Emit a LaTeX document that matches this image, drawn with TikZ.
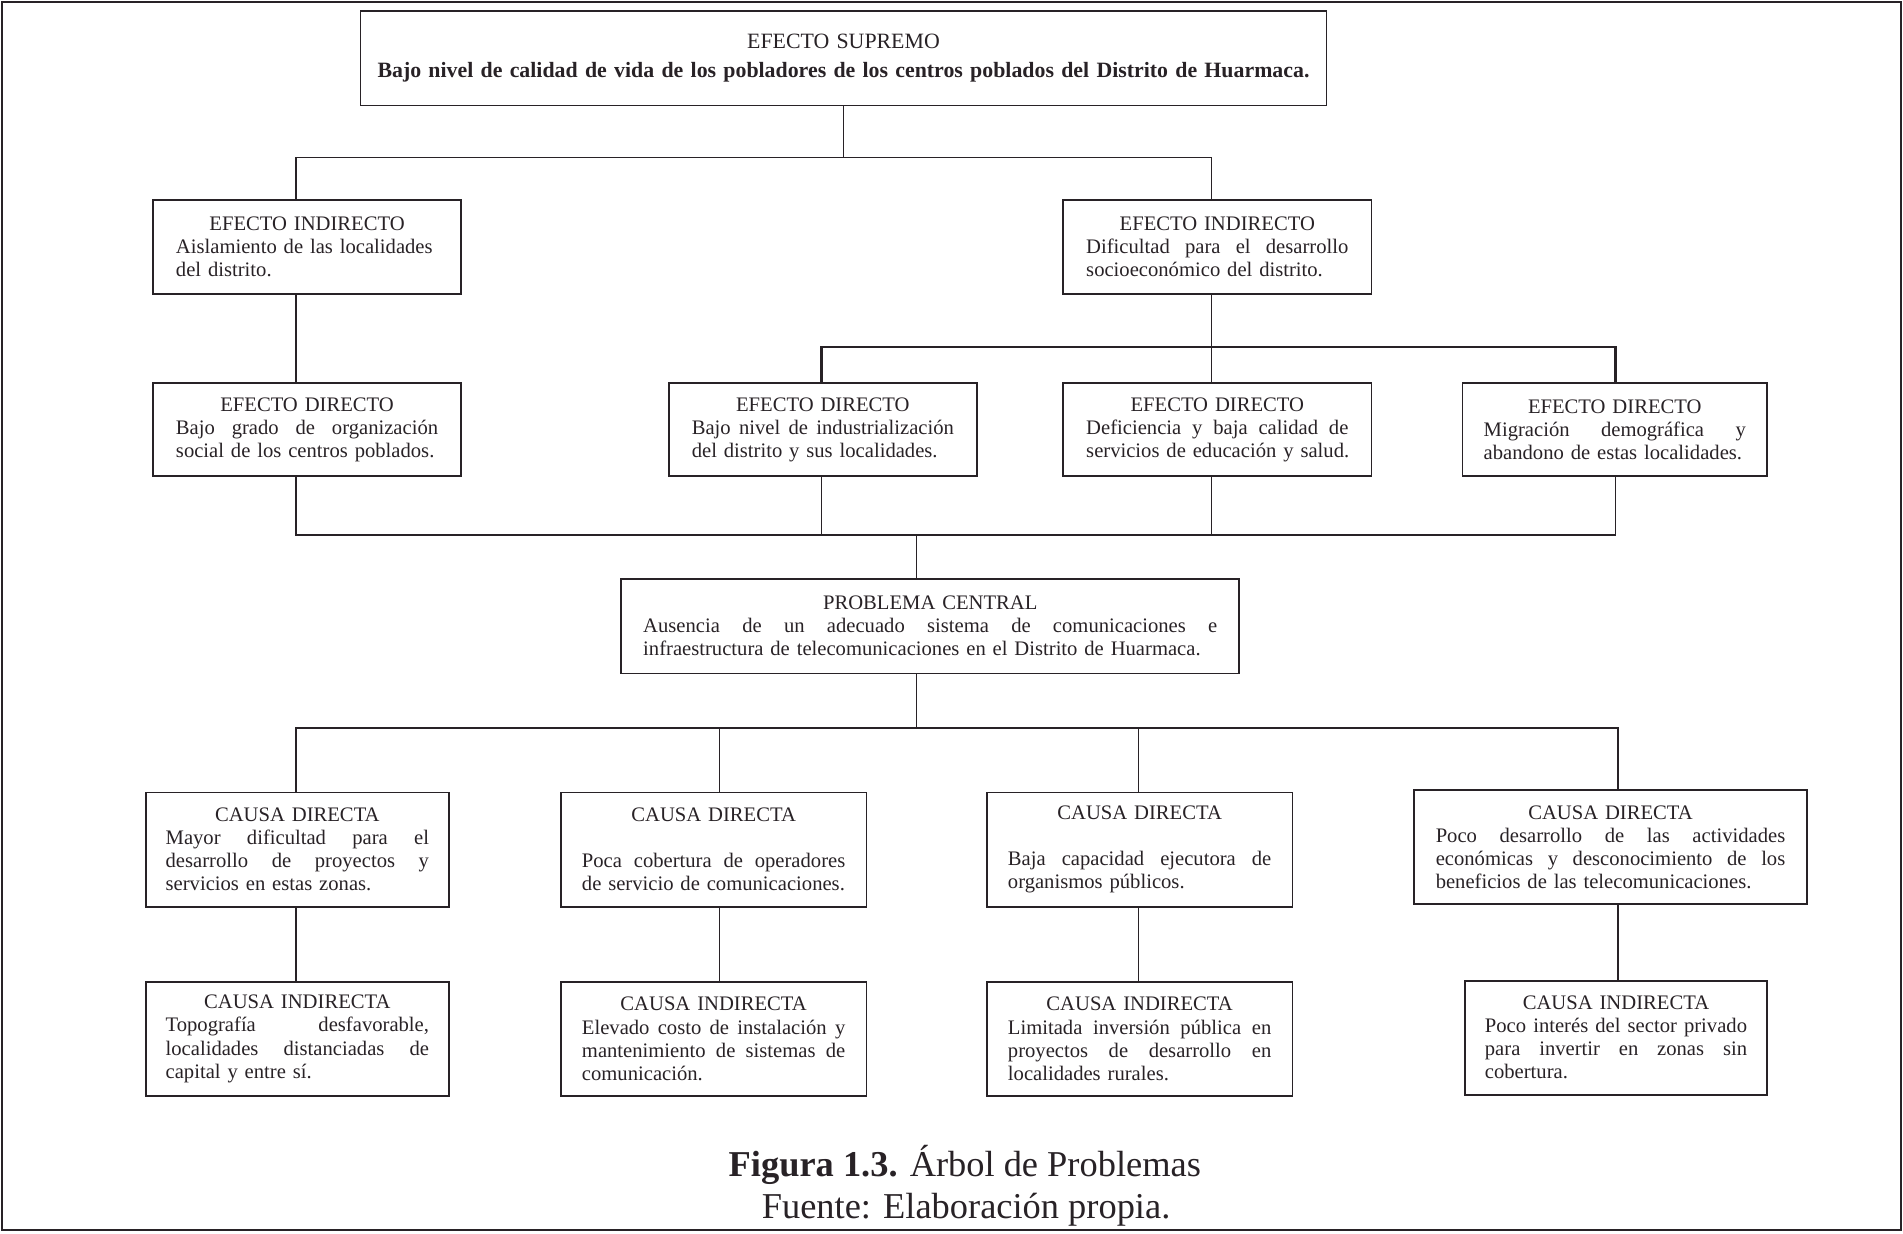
\documentclass[tikz,border=0pt]{standalone}
\usepackage{fontspec}
\setmainfont{Liberation Serif}
\definecolor{ink}{RGB}{40,34,38}
% justified line: restore the font's stretchable interword glue
\newcommand{\lnJust}[1]{{\spaceskip=0pt\xspaceskip=0pt\makebox[\linewidth][s]{#1}}}
\newcommand{\lnLeft}[1]{\makebox[\linewidth][l]{#1}}
\newcommand{\lnMid}[1]{\makebox[\linewidth][c]{#1}}
\begin{document}
\begin{tikzpicture}[x=1pt,y=-1pt,
  box/.style={draw=ink, line width=1.5pt, inner sep=0pt, align=center, text=ink,
              font=\fontsize{17}{19}\selectfont},
  small/.style={box, minimum width=254pt, minimum height=77pt, text width=216pt},
  cbox/.style={box, minimum width=251pt, minimum height=94pt, text width=217pt},
  link/.style={draw=ink, line width=1.2pt}]
\useasboundingbox (0,0) rectangle (1568,1016);
\draw[draw=ink, line width=1.6pt] (1.5,1.5) rectangle (1566,1013.5);

% effects
\node[box, minimum width=796pt, minimum height=78pt, text width=780pt,
      font=\fontsize{18}{19}\selectfont] (sup) at (695,48)
  {EFECTO SUPREMO\\[5pt] \textbf{Bajo nivel de calidad de vida de los pobladores de los centros poblados del Distrito de Huarmaca.}};
\node[small] (ei1) at (253,203.5)
  {\lnMid{EFECTO INDIRECTO}\\ \lnLeft{Aislamiento de las localidades}\\ \lnLeft{del distrito.}};
\node[small] (ei2) at (1003,203.5)
  {\lnMid{EFECTO INDIRECTO}\\ \lnJust{Dificultad para el desarrollo}\\ \lnLeft{socioeconómico del distrito.}};
\node[small] (ed1) at (253,354)
  {\lnMid{EFECTO DIRECTO}\\ \lnJust{Bajo grado de organización}\\ \lnLeft{social de los centros poblados.}};
\node[small] (ed2) at (678,354)
  {\lnMid{EFECTO DIRECTO}\\ \lnJust{Bajo nivel de industrialización}\\ \lnLeft{del distrito y sus localidades.}};
\node[small] (ed3) at (1003,354)
  {\lnMid{EFECTO DIRECTO}\\ \lnJust{Deficiencia y baja calidad de}\\ \lnLeft{servicios de educación y salud.}};
\node[small, minimum width=251pt] (ed4) at (1330.5,354)
  {\lnMid{EFECTO DIRECTO}\\ \lnJust{Migración demográfica y}\\ \lnLeft{abandono de estas localidades.}};

% central problem
\node[box, minimum width=509pt, minimum height=78pt, text width=473pt] (pc) at (766.5,516)
  {\lnMid{PROBLEMA CENTRAL}\\ \lnJust{Ausencia de un adecuado sistema de comunicaciones e}\\ \lnLeft{infraestructura de telecomunicaciones en el Distrito de Huarmaca.}};

% direct causes
\node[cbox, minimum width=250pt] (cd1) at (245,700)
  {\lnMid{CAUSA DIRECTA}\\ \lnJust{Mayor dificultad para el}\\ \lnJust{desarrollo de proyectos y}\\ \lnLeft{servicios en estas zonas.}};
\node[cbox, minimum width=252pt] (cd2) at (588,700)
  {\lnMid{CAUSA DIRECTA}\\ \mbox{}\\ \lnJust{Poca cobertura de operadores}\\ \lnLeft{de servicio de comunicaciones.}};
\node[cbox, minimum width=252pt] (cd3) at (939,700)
  {\lnMid{CAUSA DIRECTA}\\ \mbox{}\\ \lnJust{Baja capacidad ejecutora de}\\ \lnLeft{organismos públicos.}};
\node[cbox, minimum width=324pt, text width=288pt] (cd4) at (1327,698)
  {\lnMid{CAUSA DIRECTA}\\ \lnJust{Poco desarrollo de las actividades}\\ \lnJust{económicas y desconocimiento de los}\\ \lnLeft{beneficios de las telecomunicaciones.}};

% indirect causes
\node[cbox, minimum width=250pt] (ci1) at (245,856)
  {\lnMid{CAUSA INDIRECTA}\\ \lnJust{Topografía desfavorable,}\\ \lnJust{localidades distanciadas de}\\ \lnLeft{capital y entre sí.}};
\node[cbox, minimum width=252pt] (ci2) at (588,856)
  {\lnMid{CAUSA INDIRECTA}\\ \lnJust{Elevado costo de instalación y}\\ \lnJust{mantenimiento de sistemas de}\\ \lnLeft{comunicación.}};
\node[cbox, minimum width=252pt] (ci3) at (939,856)
  {\lnMid{CAUSA INDIRECTA}\\ \lnJust{Limitada inversión pública en}\\ \lnJust{proyectos de desarrollo en}\\ \lnLeft{localidades rurales.}};
\node[cbox, minimum width=249pt, text width=216pt] (ci4) at (1331.5,855)
  {\lnMid{CAUSA INDIRECTA}\\ \lnJust{Poco interés del sector privado}\\ \lnJust{para invertir en zonas sin}\\ \lnLeft{cobertura.}};

% caption
\node[text=ink, font=\fontsize{30}{32}\selectfont] (cap1) at (795,960) {\textbf{Figura 1.3.} Árbol de Problemas};
\node[text=ink, font=\fontsize{30}{32}\selectfont] (cap2) at (796,997) {Fuente: Elaboración propia.};

% bus levels and connector columns
\coordinate (b1) at (0,130);
\coordinate (b2) at (0,286);
\coordinate (b3) at (0,441);
\coordinate (b4) at (0,600);
\coordinate (xA) at (244,0);
\coordinate (xB) at (677,0);
\coordinate (xC) at (998,0);
\coordinate (xD) at (1331,0);
\coordinate (xP) at (755,0);
\coordinate (xE) at (244,0);
\coordinate (xF) at (593,0);
\coordinate (xG) at (938,0);
\coordinate (xH) at (1333,0);

% connectors
\draw[link] (sup.south) -- (sup.south |- b1);
\draw[link] (ei1.north -| xA) -- (xA |- b1) -- (xC |- b1) -- (ei2.north -| xC);
\draw[link] (ei1.south -| xA) -- (ed1.north -| xA);
\draw[link] (ei2.south -| xC) -- (ed3.north -| xC);
\draw[link, line width=2pt] (ed2.north -| xB) -- (xB |- b2) -- (xD |- b2) -- (ed4.north -| xD);
\draw[link] (ed1.south -| xA) -- (xA |- b3) -- (xD |- b3) -- (ed4.south -| xD);
\draw[link] (ed2.south -| xB) -- (xB |- b3);
\draw[link] (ed3.south -| xC) -- (xC |- b3);
\draw[link] (pc.north -| xP) -- (xP |- b3);
\draw[link] (pc.south -| xP) -- (xP |- b4);
\draw[link] (cd1.north -| xE) -- (xE |- b4) -- (xH |- b4) -- (cd4.north -| xH);
\draw[link] (cd2.north -| xF) -- (xF |- b4);
\draw[link] (cd3.north -| xG) -- (xG |- b4);
\draw[link] (cd1.south -| xE) -- (ci1.north -| xE);
\draw[link] (cd2.south -| xF) -- (ci2.north -| xF);
\draw[link] (cd3.south -| xG) -- (ci3.north -| xG);
\draw[link] (cd4.south -| xH) -- (ci4.north -| xH);
\end{tikzpicture}
\end{document}
